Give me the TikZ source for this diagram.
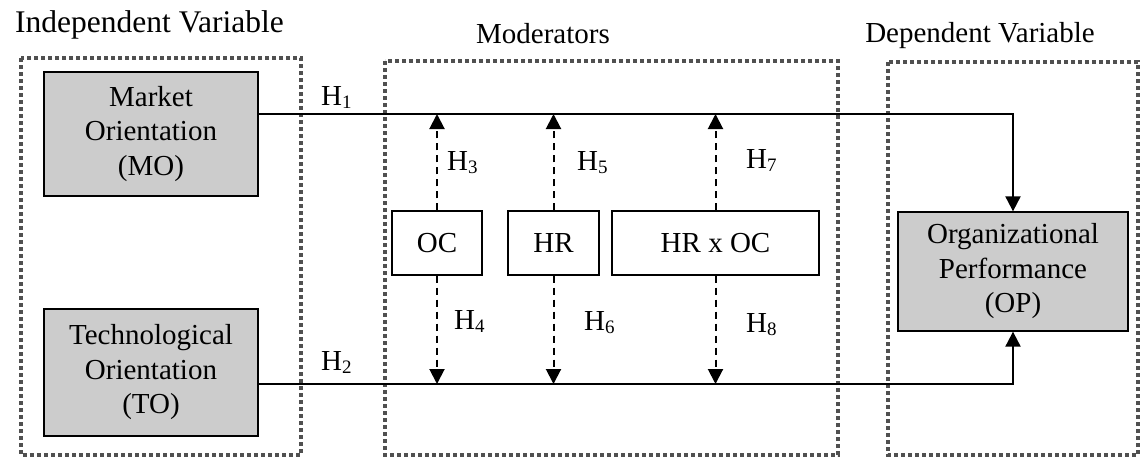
\documentclass[tikz,border=0pt]{standalone}
\usepackage{fontspec}
\setmainfont{Liberation Serif}
\usetikzlibrary{arrows.meta}
\definecolor{boxgray}{HTML}{CCCCCC}
\definecolor{dotgray}{HTML}{505050}
\newcommand{\hyp}[1]{H\raisebox{-0.12em}{\fontsize{19}{19}\selectfont #1}}
\begin{document}
\begin{tikzpicture}[x=1pt,y=-1pt,
  txt/.style={font=\fontsize{29}{34.5}\selectfont},
  graybox/.style={draw=black,line width=1.3pt,fill=boxgray,inner sep=0pt,align=center,txt},
  modbox/.style={draw=black,line width=1.3pt,fill=white,inner sep=0pt,align=center,txt,minimum height=64pt},
  group/.style={draw=dotgray,line width=4pt,dash pattern=on 3.6pt off 3.4pt},
  solidarr/.style={line width=2pt,-{Triangle[width=15pt,length=15pt]}},
  dasharr/.style={line width=2pt,dash pattern=on 7pt off 5pt,-{Triangle[width=15pt,length=15pt]}},
  hlab/.style={txt,anchor=base west,inner sep=0pt}
]
\useasboundingbox (0,0) rectangle (1143,458);
% group boxes
\draw[group] (21,58) rectangle (301,455);
\draw[group] (385,61) rectangle (838,455);
\draw[group] (888,62) rectangle (1138,455);
% titles
\node[anchor=base west,inner sep=0pt,font=\fontsize{31.5}{36}\selectfont] (tind) at (15,32) {Independent Variable};
\node[anchor=base,inner sep=0pt,txt] (tmod) at (543,43) {Moderators};
\node[anchor=base,inner sep=0pt,txt] (tdep) at (980,42) {Dependent Variable};
% main boxes
\node[graybox,minimum width=214pt,minimum height=124pt] (MO) at (151,134) {Market\\Orientation\\(MO)};
\node[graybox,minimum width=214pt,minimum height=127pt] (TO) at (151,372.5) {Technological\\Orientation\\(TO)};
\node[graybox,minimum width=230pt,minimum height=119pt] (OP) at (1013,271.5) {Organizational\\Performance\\(OP)};
% moderator boxes
\node[modbox,minimum width=90pt] (OC) at (437,243) {OC};
\node[modbox,minimum width=91pt] (HR) at (553.5,243) {HR};
\node[modbox,minimum width=207pt] (HRxOC) at (715.5,243) {HR x OC};
% main paths
\coordinate (top) at (0,114);
\coordinate (bot) at (0,384);
\draw[solidarr] ([yshift=20pt]MO.east) -| (OP.north);
\draw[solidarr] ([yshift=-11.5pt]TO.east) -| (OP.south);
% moderator arrows
\draw[dasharr] (OC.north) -- (OC.north |- top);
\draw[dasharr] (HR.north) -- (HR.north |- top);
\draw[dasharr] (HRxOC.north) -- (HRxOC.north |- top);
\draw[dasharr] (OC.south) -- (OC.south |- bot);
\draw[dasharr] (HR.south) -- (HR.south |- bot);
\draw[dasharr] (HRxOC.south) -- (HRxOC.south |- bot);
% hypothesis labels
\node[hlab] (h1) at (321,105) {\hyp{1}};
\node[hlab] (h2) at (321,370) {\hyp{2}};
\node[hlab] (h3) at (447,170) {\hyp{3}};
\node[hlab] (h5) at (577,170) {\hyp{5}};
\node[hlab] (h7) at (746,168) {\hyp{7}};
\node[hlab] (h4) at (454,329) {\hyp{4}};
\node[hlab] (h6) at (584,330) {\hyp{6}};
\node[hlab] (h8) at (746,332) {\hyp{8}};
\end{tikzpicture}
\end{document}
